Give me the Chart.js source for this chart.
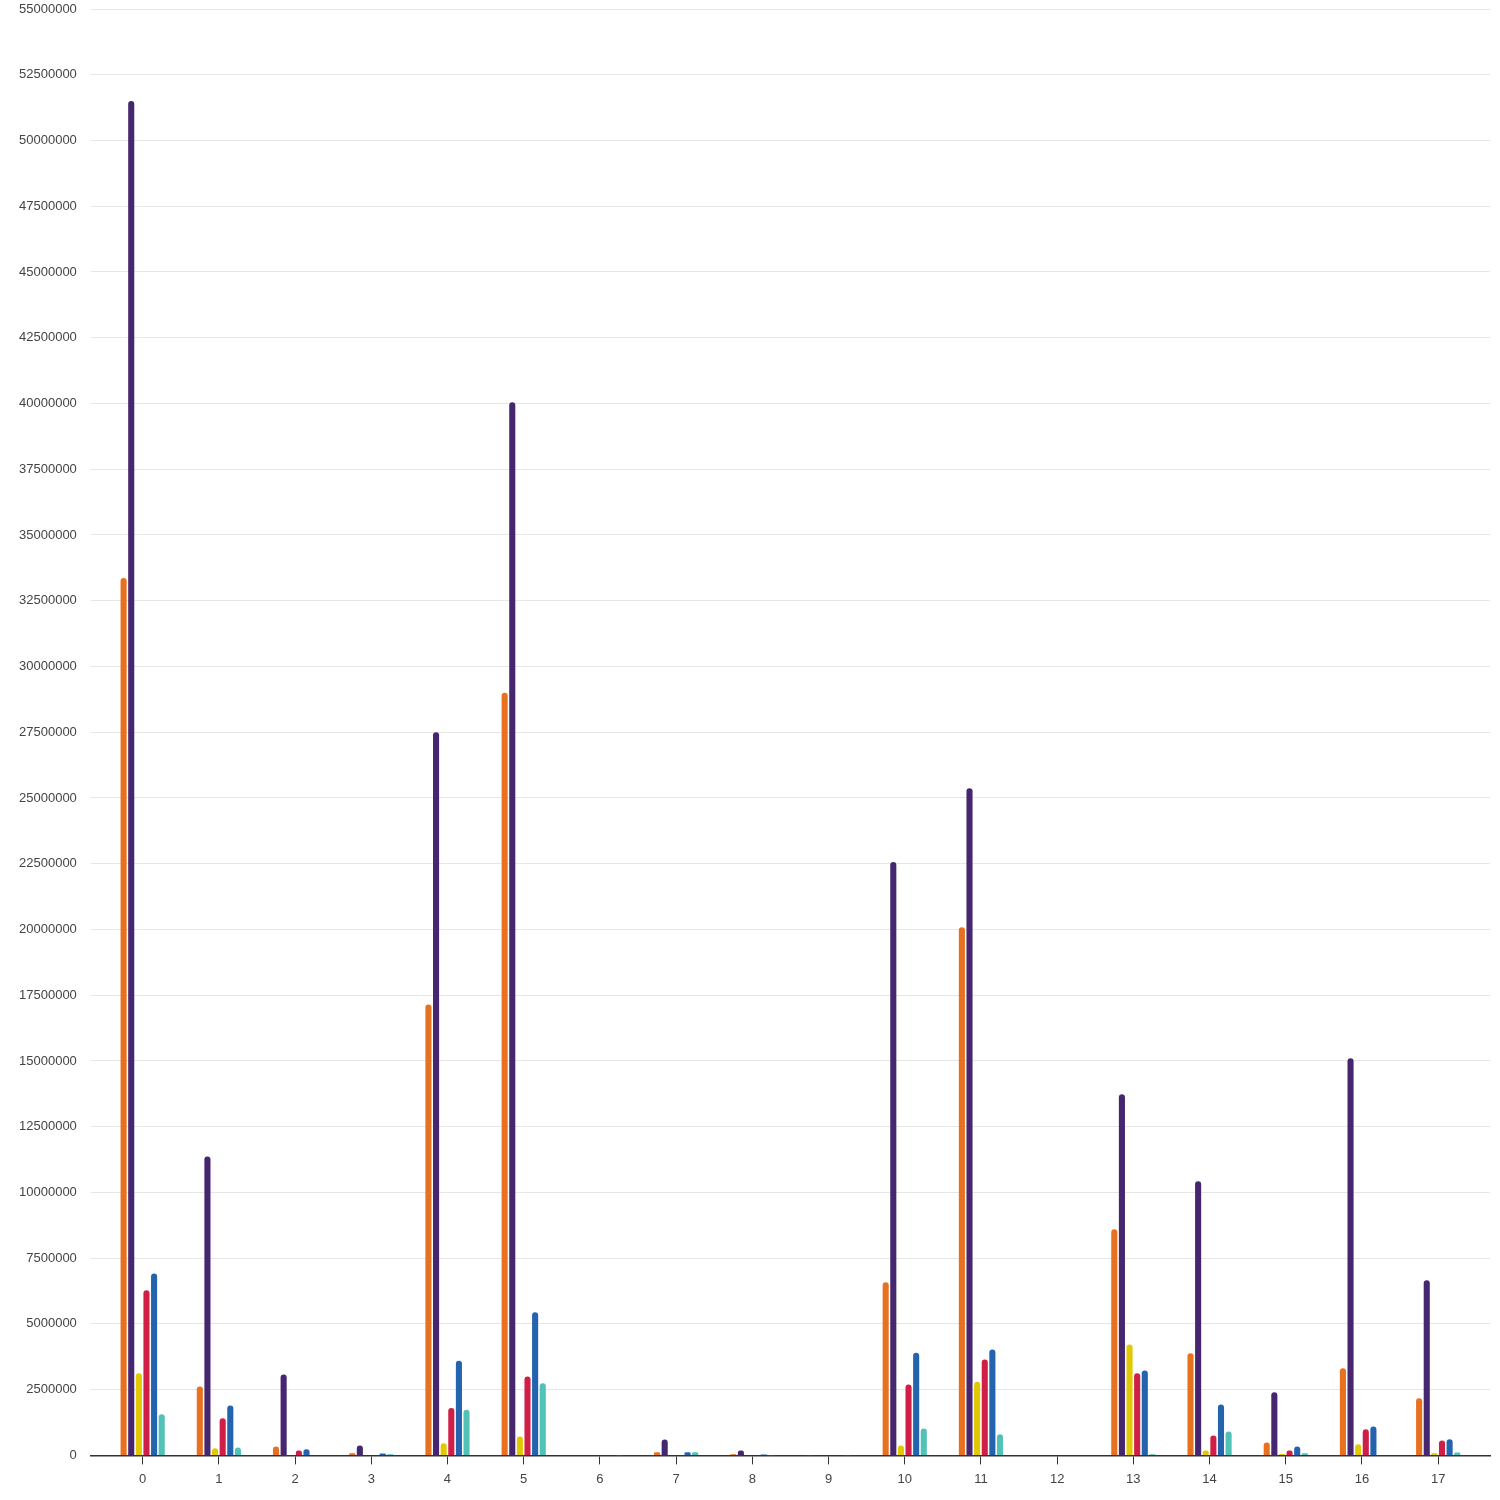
<!DOCTYPE html>
<html>
<head>
<meta charset="utf-8">
<script src="https://cdn.jsdelivr.net/npm/chart.js@4.4.0/dist/chart.umd.min.js"></script>
<style>
  html, body { margin: 0; padding: 0; background: #fff; }
  #wrap { width: 1500px; height: 1500px; position: relative; }
</style>
</head>
<body>
<div id="wrap"><canvas id="chart"></canvas></div>
<script>
// categories and series
const categories = ['0','1','2','3','4','5','6','7','8','9','10','11','12','13','14','15','16','17'];

const orangeValues = [33360000, 2620000, 340000, 80000, 17150000, 29000000, 0, 120000, 40000, 10000, 6580000, 20080000, 0, 8600000, 3880000, 490000, 3310000, 2170000];
const purpleValues = [51500000, 11370000, 3080000, 380000, 27500000, 40050000, 0, 600000, 190000, 0, 22560000, 25370000, 0, 13730000, 10420000, 2400000, 15100000, 6660000];
const yellowValues = [3120000, 270000, 0, 0, 460000, 720000, 0, 0, 0, 0, 380000, 2800000, 0, 4220000, 190000, 50000, 420000, 80000];
const redValues = [6280000, 1410000, 190000, 0, 1800000, 3000000, 0, 0, 0, 0, 2700000, 3650000, 0, 3120000, 760000, 190000, 990000, 570000];
const blueValues = [6920000, 1900000, 230000, 70000, 3600000, 5440000, 0, 120000, 30000, 0, 3900000, 4030000, 0, 3230000, 1940000, 340000, 1100000, 610000];
const tealValues = [1560000, 300000, 0, 40000, 1740000, 2740000, 10000, 120000, 10000, 10000, 1020000, 800000, 0, 40000, 910000, 80000, 0, 110000];

const seriesColors = ['#e8711f', '#45266f', '#e2c800', '#cf1f47', '#2463ae', '#52c2b8'];
const yMax = 55000000;
const yStep = 2500000;

const allSeries = [orangeValues, purpleValues, yellowValues, redValues, blueValues, tealValues];

const datasets = allSeries.map((vals, i) => ({
    label: 'series ' + i,
    data: vals,
    backgroundColor: seriesColors[i],
    borderWidth: 0,
    borderRadius: 3,
    borderSkipped: 'bottom',
    barPercentage: 0.8,
    categoryPercentage: 0.6
}));

const font = { family: 'Arial, "Liberation Sans", sans-serif', size: 13 };

const ctx = document.getElementById('chart').getContext('2d');
new Chart(ctx, {
    type: 'bar',
    data: { labels: categories, datasets: datasets },
    options: {
        responsive: true,
        maintainAspectRatio: false,
        animation: false,
        layout: { padding: { left: 5, right: 10, top: 0, bottom: 6 } },
        plugins: {
            legend: { display: false },
            tooltip: { enabled: false }
        },
        scales: {
            x: {
                // linear axis so the outer gap around the groups matches the picture
                type: 'linear',
                offset: false,
                min: -0.68,
                max: categories.length - 1 + 0.68,
                afterBuildTicks: scale => {
                    scale.ticks = categories.map(c => ({ value: Number(c) }));
                },
                grid: { display: true, offset: false, drawOnChartArea: false, drawTicks: true, tickLength: 9, color: '#333' },
                border: { display: true, color: '#333', width: 1.5 },
                ticks: { color: '#444', font: font, padding: 7, callback: v => String(v) }
            },
            y: {
                min: 0,
                max: yMax,
                grid: { color: '#e6e6e6', drawTicks: false },
                border: { display: false },
                afterFit: scale => {
                    // tick padding is horizontal only here
                    scale.paddingTop = 9;
                    scale.paddingBottom = 8;
                },
                ticks: {
                    stepSize: yStep,
                    color: '#444',
                    padding: 14,
                    font: font,
                    callback: v => String(v)
                }
            }
        }
    }
});
</script>
</body>
</html>
